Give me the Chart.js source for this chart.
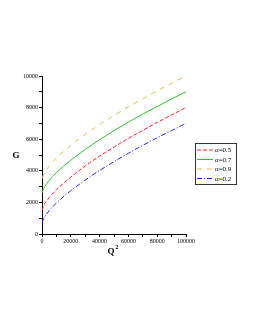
<!DOCTYPE html>
<html>
<head>
<meta charset="utf-8">
<script src="https://cdn.jsdelivr.net/npm/chart.js@4"></script>
<style>
  html, body { margin: 0; padding: 0; background: #fff; }
  #wrap { width: 255px; height: 330px; }
</style>
</head>
<body>
<div id="wrap"><canvas id="chart" width="255" height="330"></canvas></div>
<script>
// Q^2 positions and G values
const qValues = [0, 1000, 5000, 10000, 20000, 30000, 40000, 50000, 60000, 70000, 80000, 90000, 100000];
const gAlpha05 = [1500, 1760, 2300, 2800, 3600, 4300, 4930, 5500, 6050, 6560, 7060, 7540, 8000];
const gAlpha07 = [2600, 2850, 3390, 3880, 4670, 5350, 5970, 6540, 7080, 7590, 8070, 8550, 9000];
const gAlpha09 = [3500, 3760, 4300, 4800, 5600, 6300, 6930, 7500, 8050, 8560, 9060, 9540, 10000];
const gAlpha02 = [700, 950, 1480, 1960, 2740, 3410, 4020, 4580, 5110, 5610, 6090, 6550, 7000];
const seriesLabels = ['α=0.5', 'α=0.7', 'α=0.9', 'α=0.2'];

function pts(ys) {
    return qValues.map((q, i) => ({ x: q, y: ys[i] }));
}

const serif = 'Liberation Serif';

const styles = [
    { color: '#ff2020', dash: [4, 2] },
    { color: '#30c030', dash: [] },
    { color: '#e8b850', dash: [5, 5] },
    { color: '#2020ff', dash: [5, 2, 1, 2] }
];

const extras = {
    id: 'extras',
    afterDraw(chart) {
        const ctx = chart.ctx;
        ctx.save();
        // axis titles
        ctx.fillStyle = '#000';
        ctx.font = 'bold 9px ' + serif;
        ctx.textAlign = 'center';
        ctx.textBaseline = 'middle';
        ctx.fillText('G', 16, 156);
        ctx.fillText('Q', 111, 252);
        ctx.font = 'bold 6px ' + serif;
        ctx.fillText('2', 117, 247);
        // legend box
        const bx = 195.5, by = 143.5, bw = 41, bh = 41;
        ctx.strokeStyle = '#333';
        ctx.lineWidth = 1;
        ctx.strokeRect(bx, by, bw, bh);
        ctx.font = '7px ' + serif;
        ctx.textAlign = 'left';
        seriesLabels.forEach((lab, i) => {
            const y = 150 + i * 9.5;
            ctx.strokeStyle = styles[i].color;
            ctx.setLineDash(styles[i].dash);
            ctx.beginPath();
            ctx.moveTo(197, y);
            ctx.lineTo(213, y);
            ctx.stroke();
            ctx.setLineDash([]);
            ctx.fillStyle = '#000';
            ctx.fillText(lab, 215, y + 0.5);
        });
        ctx.restore();
    }
};

new Chart(document.getElementById('chart'), {
    type: 'line',
    data: {
        datasets: [gAlpha05, gAlpha07, gAlpha09, gAlpha02].map((d, i) => ({
            label: seriesLabels[i],
            data: pts(d),
            borderColor: styles[i].color,
            borderDash: styles[i].dash,
            borderWidth: 1,
            pointRadius: 0,
            fill: false,
            tension: 0.4,
            cubicInterpolationMode: 'monotone'
        }))
    },
    options: {
        responsive: false,
        animation: false,
        layout: { padding: { left: 0, top: 76, right: 69, bottom: 82 } },
        plugins: { legend: { display: false }, tooltip: { enabled: false } },
        scales: {
            x: {
                type: 'linear',
                min: 0,
                max: 100000,
                afterFit(s) { s.height = 14; },
                border: { color: '#000', width: 1 },
                grid: { drawOnChartArea: false, tickLength: 3, color: '#000' },
                ticks: {
                    stepSize: 10000,
                    autoSkip: false,
                    maxRotation: 0,
                    padding: 1,
                    color: '#000',
                    font: { family: serif, size: 6 },
                    callback: v => (v % 20000 === 0 ? String(v) : '')
                }
            },
            y: {
                min: 0,
                max: 10000,
                afterFit(s) { s.width = 42; },
                border: { color: '#000', width: 1 },
                grid: { drawOnChartArea: false, tickLength: 3, color: '#000' },
                ticks: {
                    stepSize: 1000,
                    autoSkip: false,
                    padding: 1,
                    color: '#000',
                    font: { family: serif, size: 6 },
                    callback: v => (v % 2000 === 0 ? String(v) : '')
                }
            }
        }
    },
    plugins: [extras]
});
</script>
</body>
</html>
